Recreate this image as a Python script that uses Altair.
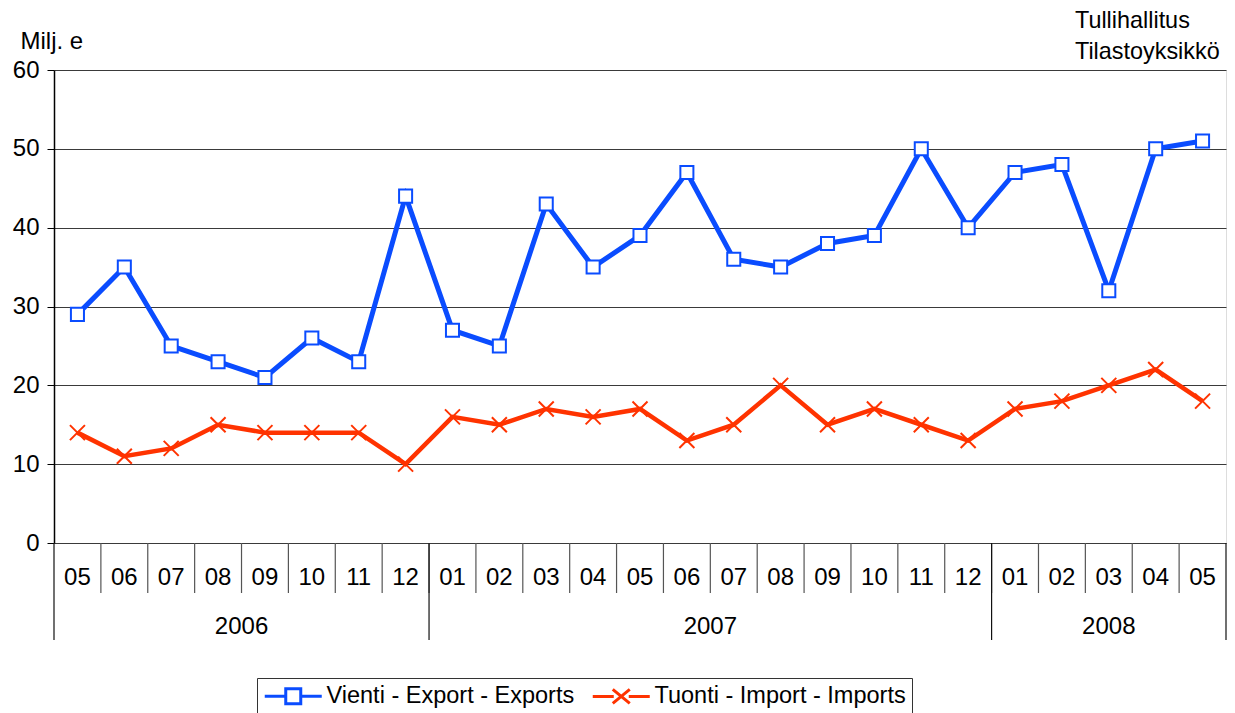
import altair as alt
import pandas as pd

months = ["05", "06", "07", "08", "09", "10", "11", "12",
          "01", "02", "03", "04", "05", "06", "07", "08", "09", "10", "11", "12",
          "01", "02", "03", "04", "05"]
years = ["2006"] * 8 + ["2007"] * 12 + ["2008"] * 5
exports = [29, 35, 25, 23, 21, 26, 23, 44, 27, 25, 43, 35, 39, 47, 36, 35, 38, 39, 50, 40, 47, 48, 32, 50, 51]
imports = [14, 11, 12, 15, 14, 14, 14, 10, 16, 15, 17, 16, 17, 13, 15, 20, 15, 17, 15, 13, 17, 18, 20, 22, 18]

S_EXP = "Vienti - Export - Exports"
S_IMP = "Tuonti - Import - Imports"
BLUE = "#0A4CFF"
RED = "#FF3300"
FONT = "Liberation Sans"
FS = 24

n = len(months)
W, H = 1172, 473

rows = []
for i in range(n):
    rows.append({"pos": i + 0.5, "series": S_EXP, "value": exports[i]})
    rows.append({"pos": i + 0.5, "series": S_IMP, "value": imports[i]})
df = pd.DataFrame(rows)

month_df = pd.DataFrame({"pos": [i + 0.5 for i in range(n)], "label": months})
month_sep = pd.DataFrame({"pos": list(range(1, n))})

ydf = pd.DataFrame({"year": years, "idx": range(n)})
yg = ydf.groupby("year")["idx"].agg(["min", "max"]).reset_index()
year_df = pd.DataFrame({"pos": (yg["min"] + yg["max"] + 1) / 2.0, "label": yg["year"]})
year_sep = pd.DataFrame({"pos": [0] + list(yg["max"] + 1)})

xscale = alt.Scale(domain=[0, n], nice=False, zero=False)
X = alt.X("pos:Q", scale=xscale, axis=None)
Y = alt.Y("value:Q", scale=alt.Scale(domain=[0, 60], nice=False),
          axis=alt.Axis(values=[0, 10, 20, 30, 40, 50, 60], grid=True, gridColor="#3a3a3a",
                        gridWidth=1, domainColor="#000", domainWidth=1.5, tickColor="#000",
                        tickSize=7, labelPadding=8, labelFontSize=FS, labelFont=FONT,
                        labelColor="#000", title="Milj. e", titleAngle=0, titleAlign="left",
                        titleBaseline="alphabetic", titleX=-34, titleY=-22,
                        titleFontSize=FS, titleFont=FONT, titleFontWeight="normal",
                        titleColor="#000"))

is_exp = alt.datum.series == S_EXP

base = alt.Chart(df)

lines = base.mark_line(strokeJoin="miter").encode(
    x=X, y=Y, detail="series:N",
    color=alt.condition(is_exp, alt.value(BLUE), alt.value(RED)),
    strokeWidth=alt.condition(is_exp, alt.value(5), alt.value(4.5)),
)

points = base.mark_point(filled=True, fill="white", strokeWidth=2, opacity=1).encode(
    x=X, y=Y,
    stroke=alt.condition(is_exp, alt.value(BLUE), alt.value(RED)),
    fill=alt.condition(is_exp, alt.value("white"), alt.value("transparent")),
    shape=alt.condition(is_exp, alt.value("square"), alt.value("M-1,-1L1,1M1,-1L-1,1")),
    size=alt.condition(is_exp, alt.value(170), alt.value(225)),
)

# legend symbols: line with marker, ~57px wide, drawn from the symbol's centre to the right
exp_sym = "M-1,0H1.1M2.6,0H4.7M1.1,-0.75H2.6V0.75H1.1Z"
imp_sym = "M-1,0H1.1M2.6,0H4.7M1.0,-0.7L2.7,0.7M1.0,0.7L2.7,-0.7"

legend = alt.Legend(title=None, orient="none", legendX=203, legendY=608, direction="horizontal",
                    labelFontSize=23.5, labelFont=FONT, labelColor="#000", symbolSize=400,
                    symbolStrokeWidth=3, symbolOpacity=1, symbolFillColor="white",
                    strokeColor="#333", padding=6, columnPadding=11, labelOffset=40,
                    labelLimit=500, cornerRadius=0)

legend_layer = base.transform_filter("false").mark_point(filled=False, strokeWidth=3, size=400).encode(
    x=X, y=Y,
    color=alt.Color("series:N", scale=alt.Scale(domain=[S_EXP, S_IMP], range=[BLUE, RED]),
                    legend=legend),
    shape=alt.Shape("series:N", scale=alt.Scale(domain=[S_EXP, S_IMP], range=[exp_sym, imp_sym]),
                    legend=legend),
)

m_labels = alt.Chart(month_df).mark_text(fontSize=FS, font=FONT, color="#000", baseline="middle").encode(
    x=alt.X("pos:Q", scale=xscale, axis=None), y=alt.value(508), text="label:N")
y_labels = alt.Chart(year_df).mark_text(fontSize=FS, font=FONT, color="#000", baseline="middle").encode(
    x=alt.X("pos:Q", scale=xscale, axis=None), y=alt.value(557), text="label:N")
m_rules = alt.Chart(month_sep).mark_rule(color="#555", strokeWidth=1.2).encode(
    x=alt.X("pos:Q", scale=xscale, axis=None), y=alt.value(H), y2=alt.value(523))
y_rules = alt.Chart(year_sep).mark_rule(color="#111", strokeWidth=1.2).encode(
    x=alt.X("pos:Q", scale=xscale, axis=None), y=alt.value(H), y2=alt.value(570))

chart = alt.layer(lines, points, legend_layer, m_rules, y_rules, m_labels, y_labels).properties(
    width=W, height=H,
    autosize=alt.AutoSizeParams(type="none"),
    padding={"left": 46, "top": 62, "right": 1, "bottom": 172},
    title=alt.TitleParams(["Tullihallitus", "Tilastoyksikkö"], anchor="start", align="left",
                          dx=1021, dy=39, offset=4, fontSize=23.4, font=FONT, fontWeight="normal",
                          lineHeight=31, color="#000", frame="group"),
).configure_view(stroke="#888", strokeWidth=2).configure(font=FONT, background="white")

chart.save("out.html", embed_options={"renderer": "svg", "actions": False})
